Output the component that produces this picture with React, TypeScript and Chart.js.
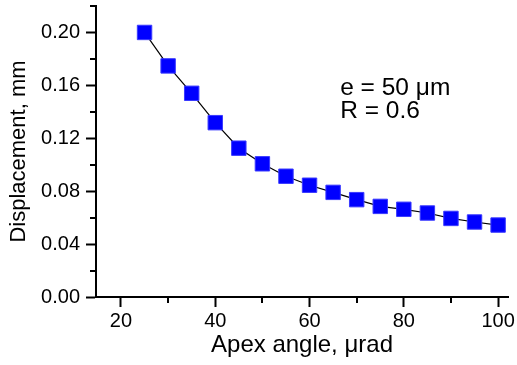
import React, { useEffect, useRef } from "react";
import { Chart, registerables } from "chart.js";

Chart.register(...registerables);

const apexAngles = [25, 30, 35, 40, 45, 50, 55, 60, 65, 70, 75, 80, 85, 90, 95, 100];
const displacement = [
  0.2, 0.1747, 0.154, 0.1318, 0.1125, 0.1007, 0.0913, 0.0845, 0.0791, 0.0736, 0.0685,
  0.0663, 0.0635, 0.0594, 0.0567, 0.0544,
];
const xMinorTicks = [30, 50, 70, 90];
const yMinorTicks = [0.02, 0.06, 0.1, 0.14, 0.18, 0.22];
const annotationLines = ["e = 50 \u03bcm", "R = 0.6"];
const annotationAnchor = { x: 66.5, y: 0.1527 };

const FONT = "'Liberation Sans', Arial, Helvetica, sans-serif";

const minorTicksPlugin = {
  id: "minorTicks",
  afterDraw(chart: any) {
    const ctx = chart.ctx;
    const xs = chart.scales.x;
    const ys = chart.scales.y;
    const area = chart.chartArea;
    ctx.save();
    ctx.strokeStyle = "#000";
    ctx.lineWidth = 2;
    ctx.beginPath();
    xMinorTicks.forEach((v) => {
      const px = Math.round(xs.getPixelForValue(v));
      ctx.moveTo(px, area.bottom);
      ctx.lineTo(px, area.bottom + 6);
    });
    yMinorTicks.forEach((v) => {
      const py = Math.round(ys.getPixelForValue(v));
      ctx.moveTo(area.left, py);
      ctx.lineTo(area.left - 6, py);
    });
    ctx.stroke();
    // annotation
    ctx.fillStyle = "#000";
    ctx.font = `24.5px ${FONT}`;
    ctx.textAlign = "left";
    ctx.textBaseline = "alphabetic";
    const ax = xs.getPixelForValue(annotationAnchor.x);
    const ay = ys.getPixelForValue(annotationAnchor.y);
    annotationLines.forEach((t, i) => {
      ctx.fillText(t, ax, ay + i * 22.6);
    });
    ctx.restore();
  },
};

export default function App() {
  const ref = useRef<HTMLCanvasElement | null>(null);
  useEffect(() => {
    if (!ref.current) return;
    const chart = new Chart(ref.current, {
      type: "line",
      data: {
        datasets: [
          {
            data: apexAngles.map((x, i) => ({ x, y: displacement[i] })),
            borderColor: "#000",
            borderWidth: 1.2,
            pointStyle: "rect",
            pointRadius: 10.2,
            pointBackgroundColor: "#0000ff",
            pointBorderColor: "#3a3aff",
            pointBorderWidth: 1,
            tension: 0,
            clip: false,
          },
        ],
      },
      options: {
        animation: false,
        responsive: true,
        maintainAspectRatio: false,
        layout: { autoPadding: false, padding: { top: 6, right: 9, left: 0, bottom: 0 } },
        plugins: { legend: { display: false }, tooltip: { enabled: false } },
        scales: {
          x: {
            type: "linear",
            min: 14.7,
            max: 102.1,
            afterFit: (s: any) => {
              s.height = 68;
              s.paddingLeft = 0;
              s.paddingRight = 0;
            },
            border: { display: true, color: "#000", width: 2 },
            grid: {
              drawOnChartArea: false,
              drawTicks: true,
              tickLength: 10,
              tickWidth: 2,
              tickColor: "#000",
            },
            ticks: {
              stepSize: 20,
              includeBounds: false,
              color: "#000",
              font: { family: FONT, size: 20 },
              padding: 2,
              maxRotation: 0,
            },
            title: {
              display: true,
              text: "Apex angle, \u03bcrad",
              color: "#000",
              font: { family: FONT, size: 24 },
              padding: { top: 0, bottom: 5 },
            },
          },
          y: {
            type: "linear",
            min: 0,
            max: 0.22,
            afterFit: (s: any) => {
              s.width = 96;
              s.paddingTop = 0;
              s.paddingBottom = 0;
            },
            border: { display: true, color: "#000", width: 2 },
            grid: {
              drawOnChartArea: false,
              drawTicks: true,
              tickLength: 10,
              tickWidth: 2,
              tickColor: "#000",
            },
            ticks: {
              stepSize: 0.04,
              includeBounds: false,
              color: "#000",
              font: { family: FONT, size: 20 },
              padding: 6,
              callback: (v: any) => Number(v).toFixed(2),
            },
            title: {
              display: true,
              text: "Displacement, mm",
              color: "#000",
              font: { family: FONT, size: 22 },
              padding: { top: 6, bottom: 0 },
            },
          },
        },
      },
      plugins: [minorTicksPlugin],
    });
    return () => chart.destroy();
  }, []);
  return (
    <div style={{ position: "absolute", left: 0, top: 0, width: 517, height: 365, background: "#fff" }}>
      <canvas ref={ref} />
    </div>
  );
}
